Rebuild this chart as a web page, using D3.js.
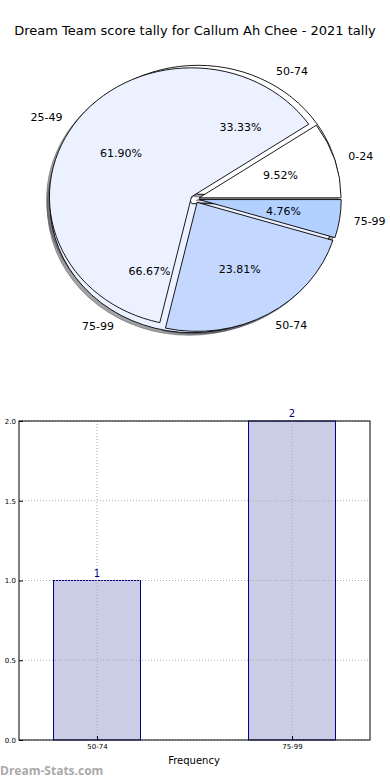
<!DOCTYPE html>
<html><head><meta charset="utf-8">
<script src="https://cdn.jsdelivr.net/npm/d3@7"></script>
<style>body{margin:0;background:#fff}svg{display:block;font-family:"DejaVu Sans",sans-serif}</style>
</head><body><svg id="c" width="390" height="780"></svg>
<script>
const title = "Dream Team score tally for Callum Ah Chee - 2021 tally";
const pieCats = ["0-24","25-49","50-74","75-99"];
const pieCounts = [2,13,5,1];
const pieColors = ["#ffffff","#ebf1ff","#c4d8ff","#b3d1ff"];
const barCats = ["50-74","75-99"];
const barValues = [1,2];
const yTicks = [0,0.5,1.0,1.5,2.0];
const xLabel = "Frequency";
const watermark = "Dream-Stats.com";

const svg = d3.select("#c");
svg.append("text").attr("x",195).attr("y",35).attr("text-anchor","middle")
  .attr("font-size",13).attr("fill","#000").text(title);

const cx=195, cy=199, rx=142, ry=129;
const pieGen = d3.pie().sort(null).value(d=>d.v).startAngle(Math.PI/2).endAngle(Math.PI/2-2*Math.PI);
const arc = d3.arc().innerRadius(0).outerRadius(1);
const pie1 = pieGen(pieCats.map((c,i)=>({c, v:pieCounts[i], col:pieColors[i]})));
const pie2 = pieGen(barCats.map((c,i)=>({c, v:barValues[i], col:pieColors[i]})));
const tot1 = d3.sum(pieCounts), tot2 = d3.sum(barValues);

function prep(arr, ex, tot){
  return arr.map(d=>{
    const th = Math.PI/2 - (d.startAngle+d.endAngle)/2;
    return Object.assign(d,{th, ox: ex*rx*Math.cos(th), oy: -ex*ry*Math.sin(th), pct: (d.value/tot*100).toFixed(2)+"%"});
  });
}
prep(pie1,0.03,tot1); prep(pie2,0.042,tot2);

const shade = c=>{const r=d3.rgb(c);return d3.rgb(r.r*0.3,r.g*0.3,r.b*0.3).toString();};
const gS = svg.append("g");
[pie2,pie1].forEach(p=>{
  gS.selectAll(null).data(p).enter().append("path")
    .attr("d",arc)
    .attr("transform",d=>`translate(${cx+d.ox-2.8},${cy+d.oy+2.6}) scale(${rx},${ry})`)
    .attr("fill",d=>shade(d.data.col)).attr("fill-opacity",0.5)
    .attr("stroke",d=>shade(d.data.col)).attr("stroke-opacity",0.5)
    .attr("stroke-width",1).attr("vector-effect","non-scaling-stroke");
});
[pie2,pie1].forEach(p=>{
  svg.append("g").selectAll("path").data(p).enter().append("path")
    .attr("d",arc)
    .attr("transform",d=>`translate(${cx+d.ox},${cy+d.oy}) scale(${rx},${ry})`)
    .attr("fill",d=>d.data.col).attr("stroke","#000").attr("stroke-width",0.9)
    .attr("stroke-linejoin","round")
    .attr("vector-effect","non-scaling-stroke");
});
[pie1,pie2].forEach(p=>{
  const g = svg.append("g").attr("font-size",11).attr("fill","#000");
  p.forEach(d=>{
    const lx = cx+d.ox+1.1*rx*Math.cos(d.th), ly = cy+d.oy-1.1*ry*Math.sin(d.th);
    g.append("text").attr("x",lx).attr("y",ly).attr("dy","0.35em")
      .attr("text-anchor",Math.cos(d.th)>=0?"start":"end").text(d.data.c);
    const px = cx+d.ox+0.6*rx*Math.cos(d.th), py = cy+d.oy-0.6*ry*Math.sin(d.th);
    g.append("text").attr("x",px).attr("y",py).attr("dy","0.35em")
      .attr("text-anchor","middle").text(d.pct);
  });
});

// bar chart
const L=19,R=370,T=421,B=740;
const x = d3.scaleLinear().domain([-0.4,1.4]).range([L,R]);
const y = d3.scaleLinear().domain([0,2]).range([B,T]);
const bw = 0.446;
const gb = svg.append("g");
gb.selectAll("rect").data(barValues).enter().append("rect")
  .attr("x",(d,i)=>x(i-bw/2)).attr("width",x(bw)-x(0))
  .attr("y",d=>y(d)).attr("height",d=>y(0)-y(d))
  .attr("fill","#cbcce6").attr("stroke","#000080").attr("stroke-width",1);
// grid
const gg = svg.append("g").attr("stroke","#aaa").attr("stroke-width",1).attr("stroke-dasharray","1,2");
yTicks.forEach(t=>gg.append("line").attr("x1",L).attr("x2",R).attr("y1",y(t)).attr("y2",y(t)));
barCats.forEach((c,i)=>gg.append("line").attr("x1",x(i)).attr("x2",x(i)).attr("y1",T).attr("y2",B));
// axes
svg.append("g").attr("transform",`translate(${L},0)`)
  .call(d3.axisLeft(y).tickValues(yTicks).tickFormat(d3.format(".1f")).tickSizeInner(-4).tickSizeOuter(0).tickPadding(3))
  .call(g=>{g.select(".domain").remove();g.selectAll("text").attr("font-size",7).attr("font-family","DejaVu Sans");g.selectAll("line").attr("stroke","#000");});
svg.append("g").attr("transform",`translate(0,${B})`)
  .call(d3.axisBottom(x).tickValues([0,1]).tickFormat((d,i)=>barCats[i]).tickSizeInner(-4).tickSizeOuter(0).tickPadding(4))
  .call(g=>{g.select(".domain").remove();g.selectAll("text").attr("font-size",7).attr("font-family","DejaVu Sans");g.selectAll("line").attr("stroke","#000");});
svg.append("rect").attr("x",L).attr("y",T).attr("width",R-L).attr("height",B-T)
  .attr("fill","none").attr("stroke","#000").attr("stroke-width",1);
gb.selectAll("text").data(barValues).enter().append("text")
  .attr("x",(d,i)=>x(i)).attr("y",d=>y(d)-4).attr("text-anchor","middle")
  .attr("font-size",10).attr("fill","#000080").text(d=>d);
svg.append("text").attr("x",194).attr("y",764).attr("text-anchor","middle")
  .attr("font-size",10).text(xLabel);
svg.append("text").attr("x",0).attr("y",775).attr("font-size",12).attr("font-weight","bold")
  .attr("fill","#aaa").attr("font-family","Open Sans, DejaVu Sans").text(watermark);
</script></body></html>
